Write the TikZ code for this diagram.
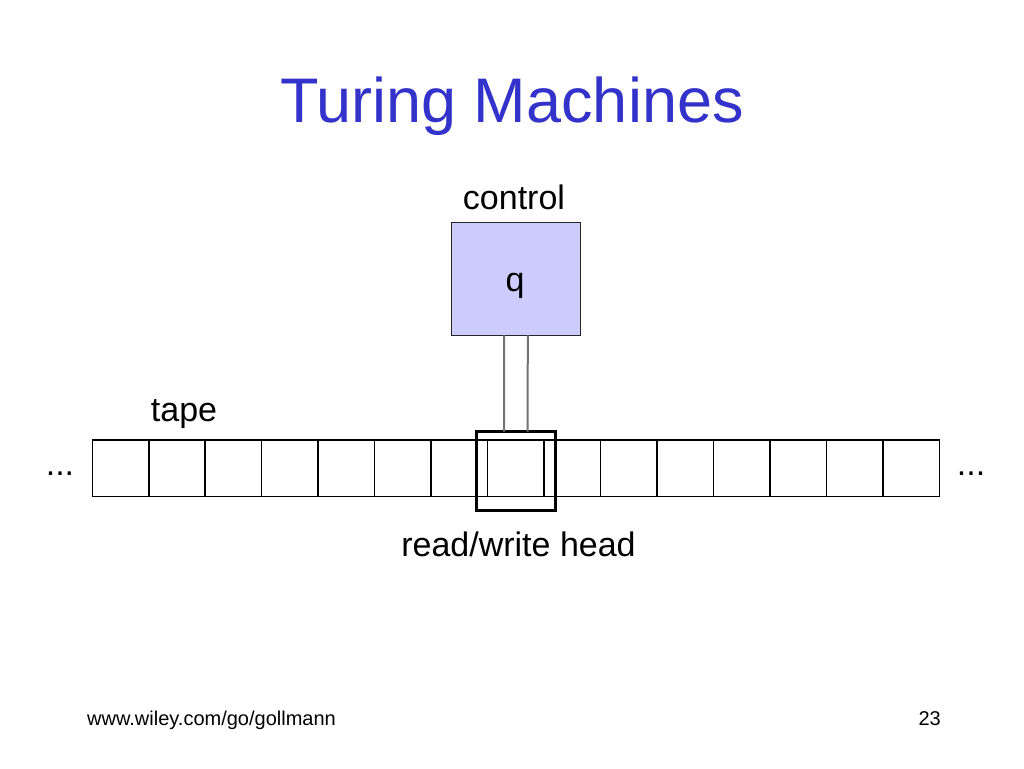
\documentclass[tikz,border=0pt]{standalone}
\usepackage{fontspec}
\setmainfont{Liberation Sans}
\usetikzlibrary{positioning,calc}
\definecolor{titleblue}{RGB}{51,51,204}
\definecolor{ctrlfill}{RGB}{204,204,255}
\begin{document}
\begin{tikzpicture}[x=1pt,y=-1pt,
  cellbox/.style={draw=black,line width=1.5pt,minimum width=56.47pt,minimum height=56.7pt,inner sep=0pt,outer sep=0pt,anchor=north west},
  ctrlbox/.style={draw=black!85,line width=1.5pt,fill=ctrlfill,minimum width=129pt,minimum height=112.6pt,inner sep=0pt,outer sep=0pt},
  headbox/.style={draw=black,line width=2.8pt,minimum width=78.6pt,minimum height=79pt,inner sep=0pt,outer sep=0pt},
  rod/.style={draw=black!55,line width=2pt},
  lbl/.style={font=\fontsize{34}{38}\selectfont,inner sep=0pt,anchor=base},
  foot/.style={font=\fontsize{20}{24}\selectfont,inner sep=0pt,anchor=base}]
\useasboundingbox[fill=white] (0,0) rectangle (1024,768);
% title
\node[font=\fontsize{63}{70}\selectfont,text=titleblue,inner sep=0pt,anchor=base] (title) at (512,122.3) {Turing Machines};
% tape cells
\foreach \i in {1,...,15}{
  \node[cellbox] (c\i) at ({92.3+(\i-1)*56.47},440) {};
}
% control
\node[ctrlbox] (ctrl) at (516.2,279) {};
\node[lbl] (q) at (515,291.7) {q};
\node[lbl] (ctrllbl) at (514,209) {control};
% head
\node[headbox] (head) at (516,471.2) {};
% rods
\draw[rod] ([xshift=-12pt]ctrl.south) -- ([xshift=-12pt]head.north);
\draw[rod] ([xshift=11.6pt]ctrl.south) -- ([xshift=11.6pt]head.north);
% labels
\node[lbl] (tapelbl) at (184,421) {tape};
\node[lbl] (rwlbl) at (518.5,556) {read/write head};
\node[lbl] (ldots) at (60,475) {...};
\node[lbl] (rdots) at (971,475) {...};
% footer
\node[foot,anchor=base west] (url) at (87,725) {www.wiley.com/go/gollmann};
\node[foot,anchor=base east] (pg) at (941,725) {23};
\end{tikzpicture}
\end{document}
